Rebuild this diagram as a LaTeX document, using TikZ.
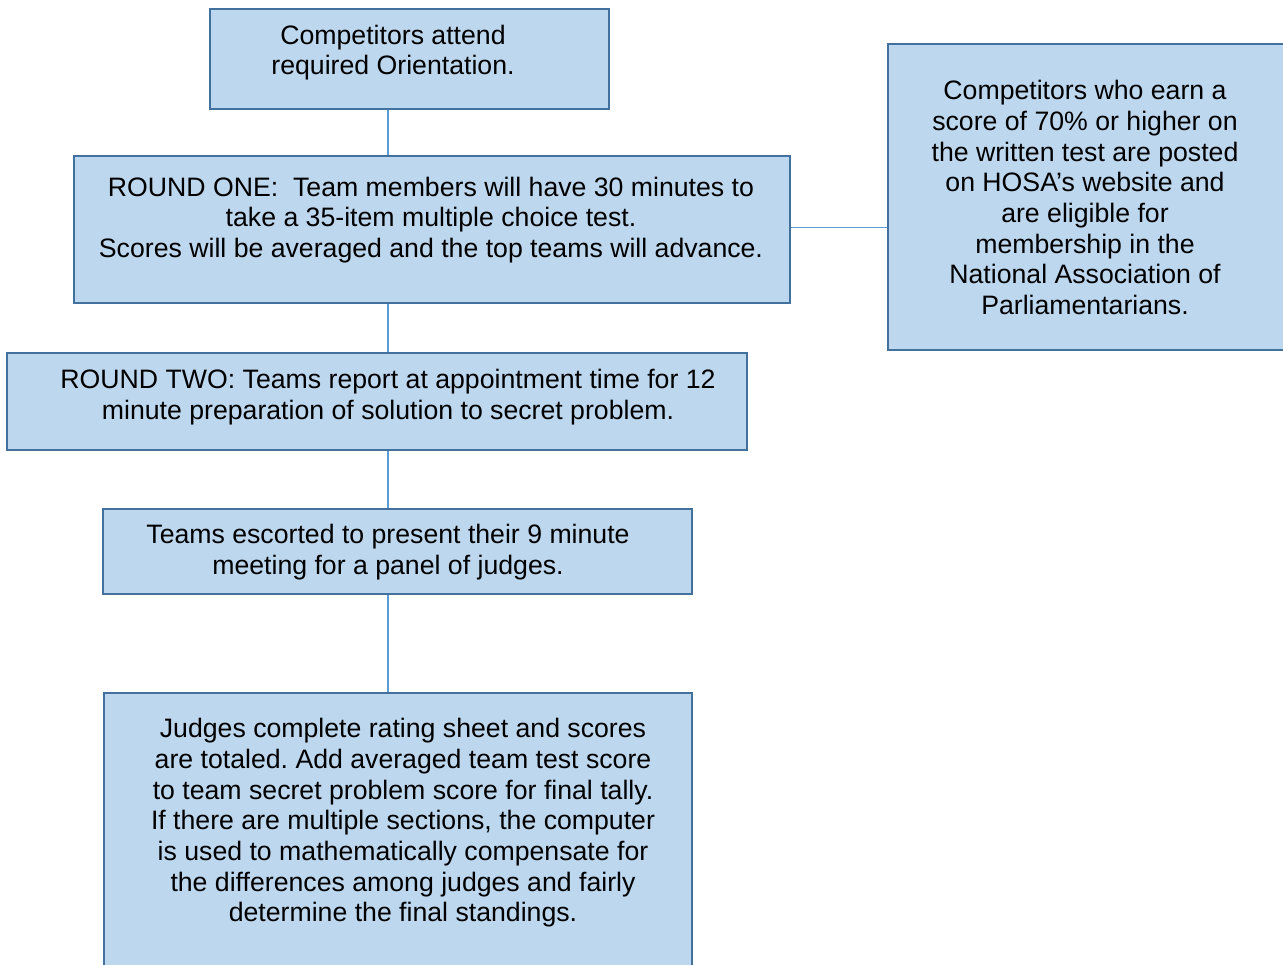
\documentclass[tikz,border=0pt]{standalone}
\usepackage{fontspec}
\setmainfont{Liberation Sans}
\usepackage{tikz}

\begin{document}
\begin{tikzpicture}[x=0.45pt, y=-0.45pt,
  box/.style={rectangle, draw=boxedge, fill=boxfill, line width=1.1pt, inner sep=0pt, anchor=north west},
  txt/.style={align=center, inner sep=0pt, font=\fontsize{12}{13.8}\selectfont},
  link/.style={draw=linkblue, line width=0.5pt}]

%─────────────
% Controls
%─────────────
\definecolor{boxfill}{RGB}{189,215,238}  % light blue fill
\definecolor{boxedge}{RGB}{65,113,156}   % darker box outline
\definecolor{linkblue}{RGB}{91,155,213}  % connector colour
\frenchspacing

\useasboundingbox (0,0) rectangle (1283,964);

%─────────────
% Boxes (top-left corner, size in px)
%─────────────
\node[box, minimum width=399*0.45pt, minimum height=100*0.45pt] (orient) at (209,8) {};
\node[box, minimum width=716*0.45pt, minimum height=147*0.45pt] (roundone) at (73,155) {};
\node[box, minimum width=740*0.45pt, minimum height=97*0.45pt] (roundtwo) at (6,352) {};
\node[box, minimum width=589*0.45pt, minimum height=85*0.45pt] (present) at (102,508) {};
\node[box, minimum width=588*0.45pt, minimum height=300*0.45pt] (judges) at (103,692) {};
\node[box, minimum width=420*0.45pt, minimum height=306*0.45pt] (posted) at (887,43) {};

%─────────────
% Texts
%─────────────
\node[txt] (orienttxt) at (393,52.5) {Competitors attend\\required Orientation.};
\node[txt] (roundonetxt) at (431,220) {ROUND ONE:\ \ Team members will have 30 minutes to\\take a 35-item multiple choice test.\\Scores will be averaged and the top teams will advance.};
\node[txt] (roundtwotxt) at (388,397) {ROUND TWO: Teams report at appointment time for 12\\minute preparation of solution to secret problem.};
\node[txt] (presenttxt) at (388,552) {Teams escorted to present their 9 minute\\meeting for a panel of judges.};
\node[txt] (judgestxt) at (403,823) {Judges complete rating sheet and scores\\are totaled. Add averaged team test score\\to team secret problem score for final tally.\\If there are multiple sections, the computer\\is used to mathematically compensate for\\the differences among judges and fairly\\determine the final standings.};
\node[txt] (postedtxt) at (1085,197.5) {Competitors who earn a\\score of 70\% or higher on\\the written test are posted\\on HOSA’s website and\\are eligible for\\membership in the\\National Association of\\Parliamentarians.};

%─────────────
% Connectors
%─────────────
\coordinate (spine) at (388,0);
\draw[link] (spine |- orient.south) -- (spine |- roundone.north);
\draw[link] (spine |- roundone.south) -- (spine |- roundtwo.north);
\draw[link] (spine |- roundtwo.south) -- (spine |- present.north);
\draw[link] (spine |- present.south) -- (spine |- judges.north);
\draw[link] ([yshift=1.1pt]roundone.east) -- ([yshift=1.1pt]roundone.east -| posted.west);
\end{tikzpicture}
\end{document}
